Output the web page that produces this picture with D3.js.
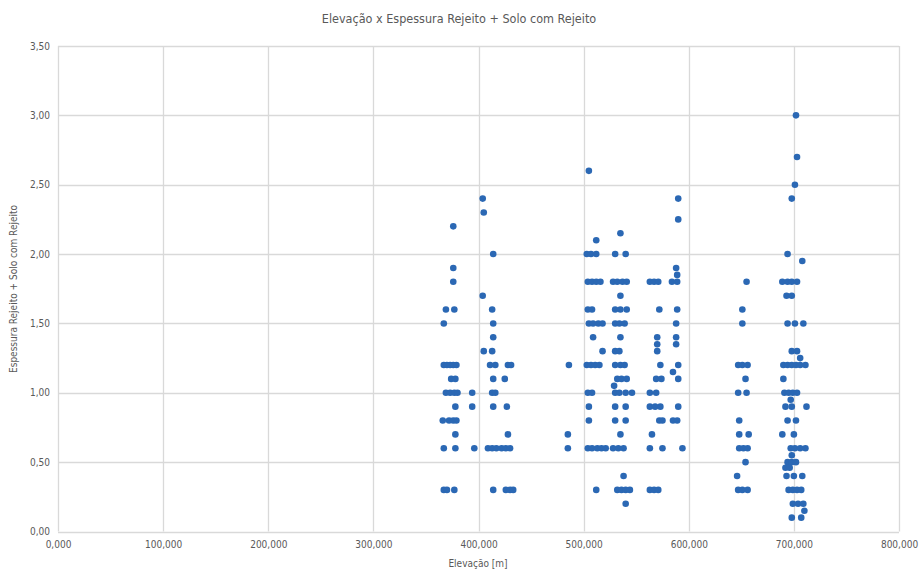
<!DOCTYPE html>
<html>
<head>
<meta charset="utf-8">
<script src="https://cdn.jsdelivr.net/npm/d3@7"></script>
<style>
html,body{margin:0;padding:0;background:#fff;}
svg{display:block;}
text{font-family:"Liberation Sans Narrow","DejaVu Sans Condensed","Liberation Sans",sans-serif;fill:#595959;}
</style>
</head>
<body>
<svg id="chart" width="920" height="572"></svg>
<script>
// ---- data (elevation, thickness) ----
const chartTitle = "Elevação x Espessura Rejeito + Solo com Rejeito";
const xTitle = "Elevação [m]";
const yTitle = "Espessura Rejeito + Solo com Rejeito";
const xTicks = [0, 100, 200, 300, 400, 500, 600, 700, 800];
const yTicks = [0, 0.5, 1, 1.5, 2, 2.5, 3, 3.5];

const groupA = [
  [376,2.20],[376,1.90],[376,1.80],[369,1.60],[377,1.60],[367,1.50],
  [367,1.20],[370,1.20],[373,1.20],[376,1.20],[379,1.20],
  [374,1.10],[378,1.10],
  [369,1.00],[373,1.00],[377,1.00],[380,1.00],[394,1.00],
  [378,0.90],[394,0.90],
  [366,0.80],[372,0.80],[376,0.80],[379,0.80],
  [378,0.70],
  [367,0.60],[378,0.60],[396,0.60],
  [367,0.30],[370,0.30],[377,0.30]
];
const groupB = [
  [404,2.40],[405,2.30],[414,2.00],[404,1.70],[413,1.60],[414,1.50],[414,1.40],
  [405,1.30],[413,1.30],
  [411,1.20],[416,1.20],[428,1.20],[431,1.20],
  [414,1.10],[425,1.10],
  [413,1.00],[416,1.00],
  [414,0.90],[427,0.90],
  [428,0.70],
  [409,0.60],[413,0.60],[417,0.60],[422,0.60],[426,0.60],[430,0.60],
  [414,0.30],[426,0.30],[430,0.30],[433,0.30]
];
const groupC = [[486,1.20],[485,0.70],[485,0.60]];
const groupD = [
  [505,2.60],[535,2.15],[512,2.10],
  [503,2.00],[507,2.00],[512,2.00],[530,2.00],[540,2.00],
  [504,1.80],[508,1.80],[512,1.80],[516,1.80],[528,1.80],[532,1.80],[537,1.80],[541,1.80],
  [535,1.70],
  [504,1.60],[508,1.60],[530,1.60],[535,1.60],[541,1.60],
  [505,1.50],[509,1.50],[514,1.50],[518,1.50],[530,1.50],[534,1.50],[539,1.50],
  [509,1.40],[535,1.40],
  [518,1.30],[530,1.30],[534,1.30],
  [503,1.20],[507,1.20],[511,1.20],[515,1.20],[530,1.20],[535,1.20],[539,1.20],
  [532,1.10],[536,1.10],[541,1.10],[529,1.05],
  [504,1.00],[508,1.00],[530,1.00],[534,1.00],[540,1.00],[546,1.00],
  [505,0.90],[530,0.90],[540,0.90],
  [505,0.80],[530,0.80],[540,0.80],
  [535,0.70],
  [504,0.60],[508,0.60],[513,0.60],[517,0.60],[521,0.60],[528,0.60],[533,0.60],[538,0.60],
  [538,0.40],
  [512,0.30],[532,0.30],[536,0.30],[540,0.30],[544,0.30],
  [540,0.20]
];
const groupE = [
  [590,2.40],[590,2.25],[588,1.90],[589,1.85],
  [563,1.80],[567,1.80],[571,1.80],[584,1.80],[589,1.80],
  [572,1.60],[589,1.60],[588,1.50],
  [570,1.40],[588,1.40],[570,1.35],[588,1.35],[570,1.30],
  [573,1.20],[590,1.20],[585,1.15],
  [569,1.10],[574,1.10],[590,1.10],
  [563,1.00],[569,1.00],
  [563,0.90],[568,0.90],[573,0.90],[590,0.90],
  [572,0.80],[575,0.80],[585,0.80],[589,0.80],
  [565,0.70],
  [563,0.60],[575,0.60],[594,0.60],
  [563,0.30],[567,0.30],[571,0.30]
];
const groupF = [
  [655,1.80],[651,1.60],[651,1.50],
  [647,1.20],[651,1.20],[656,1.20],
  [654,1.10],
  [647,1.00],[655,1.00],
  [648,0.80],
  [648,0.70],[657,0.70],
  [648,0.60],[652,0.60],[656,0.60],
  [654,0.50],[646,0.40],
  [647,0.30],[651,0.30],[656,0.30]
];
const groupG = [
  [702,3.00],[703,2.70],[701,2.50],[698,2.40],[694,2.00],[708,1.95],
  [689,1.80],[694,1.80],[698,1.80],[703,1.80],
  [693,1.70],[698,1.70],
  [694,1.50],[701,1.50],[709,1.50],
  [698,1.30],[703,1.30],[706,1.25],
  [690,1.20],[694,1.20],[698,1.20],[702,1.20],[706,1.20],[711,1.20],
  [690,1.10],
  [691,1.00],[695,1.00],[699,1.00],[703,1.00],
  [697,0.95],
  [692,0.90],[698,0.90],[712,0.90],
  [694,0.80],[702,0.80],
  [689,0.70],[700,0.70],
  [697,0.60],[701,0.60],[706,0.60],[711,0.60],
  [698,0.55],
  [694,0.50],[698,0.50],[702,0.50],
  [692,0.46],[696,0.46],
  [693,0.40],[700,0.40],[708,0.40],
  [695,0.30],[699,0.30],[703,0.30],[707,0.30],
  [699,0.20],[704,0.20],[709,0.20],[710,0.15],
  [698,0.10],[707,0.10]
];
const points = [].concat(groupA, groupB, groupC, groupD, groupE, groupF, groupG);

// ---- drawing ----
const locale = d3.formatLocale({decimal: ",", thousands: ".", grouping: [3], currency: ["", ""]});
const fmtX = locale.format(".3f");
const fmtY = locale.format(".2f");

const svg = d3.select("#chart");
const x = d3.scaleLinear().domain([0, 800]).range([58, 899]);
const y = d3.scaleLinear().domain([0, 3.5]).range([531.5, 46]);

const grid = svg.append("g");
grid.selectAll("line.h").data(yTicks).join("line")
  .attr("x1", x(0)).attr("x2", x(800))
  .attr("y1", d => Math.round(y(d)) + 0.5).attr("y2", d => Math.round(y(d)) + 0.5)
  .attr("stroke", "#d9d9d9").attr("stroke-width", 1.3);
grid.selectAll("line.v").data(xTicks).join("line")
  .attr("y1", y(0)).attr("y2", y(3.5))
  .attr("x1", d => Math.round(x(d)) + 0.5).attr("x2", d => Math.round(x(d)) + 0.5)
  .attr("stroke", "#d9d9d9").attr("stroke-width", 1.3);

const yAxis = d3.axisLeft(y).tickValues(yTicks).tickFormat(fmtY).tickSize(0).tickPadding(8);
svg.append("g").attr("transform", `translate(${x(0)},0)`).call(yAxis)
  .call(g => g.select(".domain").remove())
  .selectAll("text").style("font-size", "10px").attr("fill", "#595959");

const xAxis = d3.axisBottom(x).tickValues(xTicks).tickFormat(fmtX).tickSize(0).tickPadding(9);
svg.append("g").attr("transform", `translate(0,${y(0)})`).call(xAxis)
  .call(g => g.select(".domain").remove())
  .selectAll("text").style("font-size", "10px").attr("fill", "#595959");

svg.append("g").selectAll("circle").data(points).join("circle")
  .attr("cx", d => x(d[0])).attr("cy", d => y(d[1])).attr("r", 3.3)
  .attr("fill", "#2b68b4");

svg.append("text").attr("x", 459).attr("y", 23).attr("text-anchor", "middle")
  .style("font-size", "12.5px").text(chartTitle);
svg.append("text").attr("x", 478).attr("y", 567).attr("text-anchor", "middle")
  .style("font-size", "10px").text(xTitle);
svg.append("text").attr("transform", "translate(17,289) rotate(-90)").attr("text-anchor", "middle")
  .style("font-size", "10px").text(yTitle);
</script>
</body>
</html>
